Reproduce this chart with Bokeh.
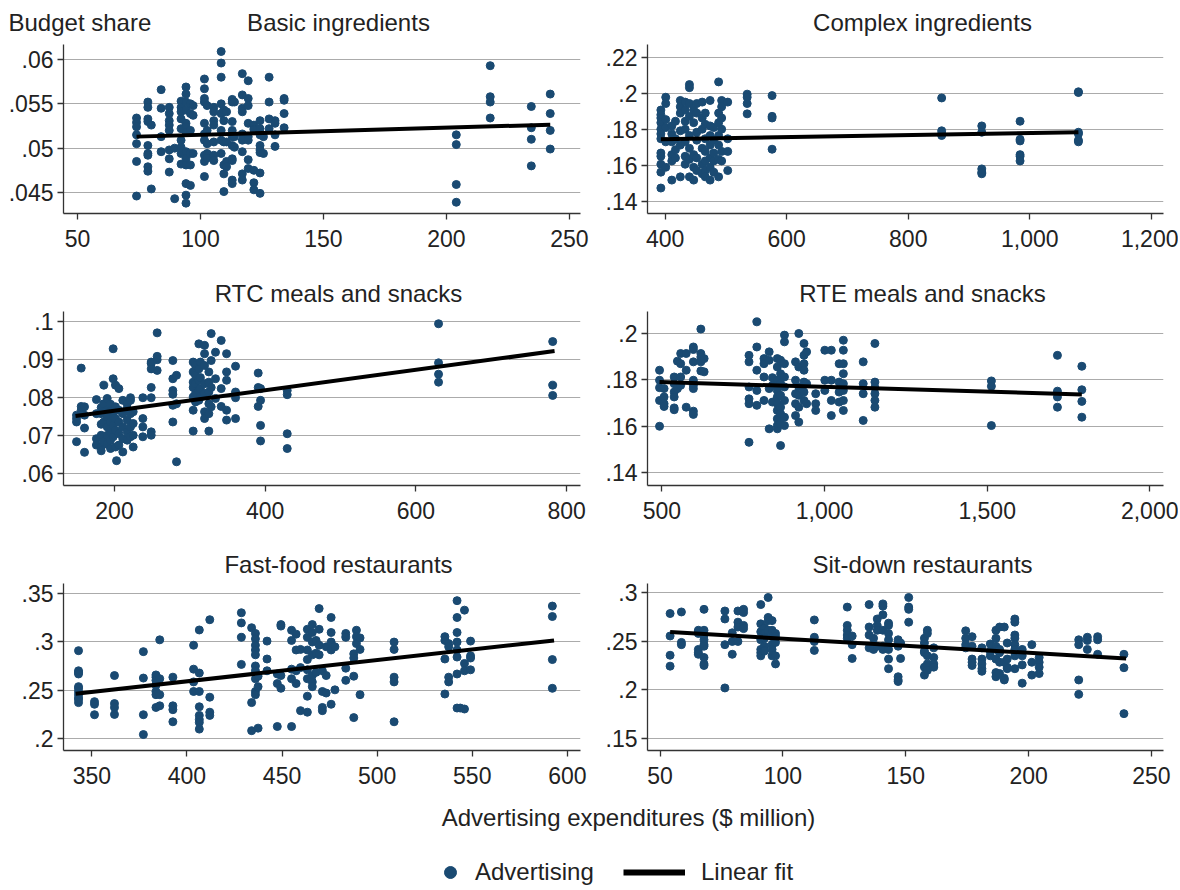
import math
from bokeh.plotting import figure
from bokeh.layouts import column, row
from bokeh.models import Range1d, FixedTicker, NumeralTickFormatter, Label, Legend, LegendItem
from bokeh.embed import file_html
from bokeh.resources import INLINE

FONT = "Liberation Sans"
TXT = "#222222"
DOT = "#1a4a72"
AXIS = "#333333"
GRID = "#ababab"

# ---------------- Basic ingredients ----------------
basic_x = [74, 74, 74, 74, 74, 74, 74,
           78.6, 78.6, 78.6, 78.6, 78.6, 78.6, 78.6, 78.6, 78.6,
           80, 80,
           84, 84, 84, 84,
           87.3, 87.3, 87.3, 87.3, 87.3, 87.3, 87.3, 87.3,
           89.5, 89.5,
           92.1, 92.1, 92.1, 92.1, 92.1, 92.1, 92.1, 92.1, 92.1,
           94.1, 94.1, 94.1, 94.1, 94.1, 94.1, 94.1, 94.1, 94.1, 94.1, 94.1, 94.1, 94.1,
           95.9, 95.9, 95.9, 95.9, 95.9, 95.9,
           97, 97, 97,
           101.6, 101.6, 101.6, 101.6, 101.6, 101.6, 101.6, 101.6, 101.6, 101.6,
           102.7, 102.7, 102.7, 102.7, 102.7,
           105.4, 105.4, 105.4, 105.4, 105.4, 105.4, 105.4,
           108.4, 108.4, 108.4, 108.4, 108.4, 108.4, 108.4, 108.4,
           109.5, 109.5, 109.5, 109.5, 109.5, 109.5,
           110.6, 110.6, 110.6, 110.6,
           112.9, 112.9, 112.9, 112.9, 112.9, 112.9, 112.9, 112.9, 112.9, 112.9,
           113.8, 113.8, 113.8,
           117, 117, 117, 117, 117, 117, 117, 117, 117,
           119.4, 119.4, 119.4, 119.4, 119.4, 119.4, 119.4, 119.4,
           121.7, 121.7, 121.7, 121.7, 121.7,
           124.2, 124.2, 124.2, 124.2, 124.2, 124.2, 124.2, 124.2,
           125.6, 125.6,
           127.9, 127.9, 127.9, 127.9,
           130.3, 130.3, 130.3, 130.3,
           134, 134, 134, 134,
           204, 204, 204, 204,
           217.8, 217.8, 217.8, 217.8,
           234.5, 234.5, 234.5, 234.5,
           242.2, 242.2, 242.2, 242.2]
basic_y = [.0534, .0529, .0524, .0515, .0505, .0485, .0446,
           .0552, .0546, .0533, .0530, .0503, .0494, .0492, .0479, .0474,
           .0526, .0454,
           .0566, .0545, .0513, .0496,
           .0546, .0539, .0531, .0526, .0520, .0498, .0488, .0473,
           .0500, .0443,
           .0553, .0546, .0541, .0533, .0522, .0509, .0501, .0494, .0482,
           .0569, .0561, .0552, .0543, .0528, .0524, .0518, .0496, .0488, .0481, .0460, .0447, .0438,
           .0550, .0539, .0520, .0494, .0481, .0458,
           .0548, .0537, .0494,
           .0578, .0567, .0556, .0552, .0528, .0516, .0509, .0492, .0485, .0468,
           .0548, .0520, .0505, .0494, .0489,
           .0546, .0541, .0531, .0526, .0507, .0492, .0486,
           .0609, .0596, .0580, .0550, .0539, .0520, .0509, .0494,
           .0543, .0531, .0507, .0481, .0471, .0451,
           .0541, .0507, .0485, .0479,
           .0555, .0552, .0530, .0520, .0513, .0503, .0488, .0486, .0464, .0460,
           .0552, .0513, .0501,
           .0584, .0560, .0545, .0541, .0516, .0509, .0496, .0471, .0464,
           .0576, .0556, .0548, .0528, .0513, .0509, .0487, .0477,
           .0526, .0521, .0475, .0461, .0453,
           .0531, .0522, .0515, .0503, .0498, .0495, .0472, .0449,
           .0513, .0494,
           .0580, .0552, .0533, .0522,
           .0531, .0528, .0515, .0502,
           .0556, .0554, .0539, .0523,
           .0515, .0504, .0459, .0439,
           .0593, .0558, .0552, .0534,
           .0547, .0523, .0510, .0480,
           .0561, .0539, .0520, .0499]
basic_fit_x = [74, 242.2]
basic_fit_y = [.0513, .05265]

# ---------------- Complex ingredients ----------------
complex_x = [393, 393, 393, 393, 393, 393, 393, 393, 393, 393, 393, 393,
             401, 401, 401, 401, 401, 401,
             411, 411, 411, 411, 411, 411,
             417, 417, 417, 417,
             425, 425, 425, 425, 425, 425,
             433, 433, 433, 433, 433, 433, 433,
             440, 440, 440, 440, 440, 440, 440, 440,
             447, 447, 447, 447, 447,
             452, 452, 452, 452, 452, 452,
             461, 461, 461, 461, 461, 461,
             466, 466, 466, 466, 466, 466, 466,
             474, 474, 474, 474, 474, 474, 474,
             480, 480, 480, 480, 480,
             488, 488, 488, 488, 488, 488, 488,
             493, 493, 493, 493, 493, 493,
             503, 503, 503, 503,
             535, 535, 535, 535,
             576, 576, 576, 576,
             855, 855, 855, 855,
             921, 921, 921, 921, 921,
             984, 984, 984, 984, 984, 984,
             1080, 1080, 1080, 1080, 1080, 1080]
complex_y = [.1908, .1882, .1864, .1838, .1802, .1776, .1749, .1670, .1652, .1608, .1564, .1476,
             .1979, .1944, .1855, .1811, .1732, .1591,
             .1820, .1776, .1732, .1661, .1626, .1520,
             .1846, .1749, .1688, .1643,
             .1961, .1926, .1891, .1793, .1714, .1538,
             .1952, .1908, .1846, .1802, .1732, .1652, .1608,
             .2049, .2032, .1944, .1873, .1767, .1696, .1635, .1538,
             .1908, .1838, .1661, .1591, .1520,
             .1944, .1891, .1785, .1741, .1643, .1573,
             .1952, .1864, .1802, .1696, .1608, .1555,
             .1891, .1829, .1749, .1679, .1626, .1573, .1538,
             .1961, .1820, .1767, .1714, .1643, .1591, .1520,
             .1811, .1741, .1670, .1626, .1564,
             .2064, .1891, .1838, .1767, .1714, .1635, .1538,
             .1961, .1926, .1864, .1802, .1679, .1626,
             .1952, .1749, .1679, .1573,
             .1996, .1979, .1944, .1887,
             .1988, .1873, .1864, .1691,
             .1975, .1793, .1776, .1767,
             .1820, .1785, .1582, .1564, .1555,
             .1846, .1746, .1737, .1661, .1652, .1626,
             .2009, .2005, .1785, .1776, .1741, .1732]
complex_fit_x = [393, 1080]
complex_fit_y = [.1746, .1785]

# ---------------- RTC meals and snacks ----------------
rtc_x = [149.6, 149.6, 149.6, 149.6,
         155.8, 155.8, 155.8,
         160.2, 160.2, 160.2, 160.2,
         176, 176, 176, 176,
         182.3, 182.3, 182.3, 182.3, 182.3, 182.3,
         185.8, 185.8, 185.8, 185.8,
         190.3, 190.3, 190.3, 190.3, 190.3, 190.3,
         194.7, 194.7, 194.7, 194.7, 194.7, 194.7,
         198.2, 198.2, 198.2, 198.2, 198.2,
         201.3, 201.3, 201.3, 201.3, 201.3,
         202.7,
         205.8, 205.8, 205.8, 205.8, 205.8,
         211, 211, 211, 211, 211,
         216.8, 216.8, 216.8, 216.8, 216.8,
         221.2, 221.2, 221.2, 221.2, 221.2,
         224.8, 224.8, 224.8, 224.8,
         237.6, 237.6, 237.6, 237.6,
         248.7, 248.7, 248.7, 248.7, 248.7, 248.7, 248.7,
         256.6, 256.6, 256.6, 256.6,
         277.4, 277.4, 277.4, 277.4, 277.4, 277.4,
         282.3, 282.3, 282.3,
         304.4, 304.4, 304.4, 304.4, 304.4, 304.4, 304.4,
         307.5, 307.5, 307.5, 307.5, 307.5,
         311.9, 311.9, 311.9, 311.9, 311.9,
         314, 314, 314, 314,
         319.5, 319.5, 319.5, 319.5, 319.5, 319.5, 319.5,
         325.2, 325.2, 325.2, 325.2, 325.2, 325.2,
         328.3, 328.3, 328.3, 328.3,
         334, 334, 334,
         341.6, 341.6, 341.6,
         348.7, 348.7, 348.7, 348.7, 348.7,
         360.6, 360.6, 360.6, 360.6,
         390.7, 390.7, 390.7,
         393.8, 393.8, 393.8, 393.8,
         429.2, 429.2, 429.2, 429.2,
         630, 630, 630, 630,
         781.5, 781.5, 781.5]
rtc_y = [.0753, .0744, .0735, .0683,
         .0877, .0776, .0766,
         .0775, .0753, .0719, .0655,
         .0794, .0757, .0691, .0674,
         .0773, .0757, .0729, .0700, .0669, .0659,
         .0832, .0783, .0735, .0683,
         .0797, .0766, .0748, .0722, .0700, .0676,
         .0782, .0762, .0735, .0709, .0687, .0665,
         .0928, .0849, .0750, .0726, .0696,
         .0832, .0775, .0744, .0713, .0669,
         .0633,
         .0823, .0766, .0735, .0704, .0674,
         .0792, .0757, .0722, .0691, .0656,
         .0783, .0770, .0740, .0709, .0687,
         .0799, .0792, .0757, .0722, .0696,
         .0762, .0731, .0700, .0669,
         .0799, .0744, .0722, .0696,
         .0893, .0889, .0875, .0826, .0799, .0709, .0700,
         .0970, .0908, .0899, .0871,
         .0897, .0849, .0818, .0808, .0779, .0735,
         .0858, .0783, .0630,
         .0893, .0867, .0840, .0826, .0801, .0766, .0711,
         .0884, .0858, .0836, .0810, .0788,
         .0941, .0875, .0845, .0818, .0792,
         .0893, .0852, .0823, .0801,
         .0937, .0915, .0884, .0836, .0810, .0762, .0744,
         .0867, .0840, .0814, .0783, .0757, .0711,
         .0968, .0897, .0826, .0775,
         .0919, .0849, .0797,
         .0950, .0823, .0776,
         .0915, .0867, .0845, .0766, .0740,
         .0882, .0814, .0799, .0744,
         .0864, .0826, .0776,
         .0823, .0792, .0726, .0685,
         .0818, .0807, .0704, .0665,
         .0994, .0891, .0861, .0840,
         .0947, .0832, .0805]
rtc_fit_x = [148.2, 784]
rtc_fit_y = [.0751, .0922]

# ---------------- RTE meals and snacks ----------------
rte_x = [493, 493, 493, 493, 493,
         507, 507, 507, 507,
         538, 538, 538, 538, 538, 538,
         548, 548,
         558, 558, 558, 558,
         575, 575, 575,
         597, 597, 597, 597, 597, 597, 597, 597,
         620, 620, 620, 620, 620,
         630, 630,
         768, 768, 768, 768, 768, 768,
         792, 792, 792, 792, 792,
         814, 814, 814, 814,
         830, 830, 830, 830,
         840, 840, 840,
         855, 855, 855, 855, 855, 855, 855, 855, 855, 855,
         865, 865, 865, 865, 865, 865, 865, 865,
         877, 877, 877, 877, 877, 877, 877, 877,
         911, 911, 911, 911, 911,
         921, 921, 921, 921, 921, 921,
         937, 937, 937, 937, 937, 937, 937,
         945, 945, 945,
         973, 973, 973,
         1001, 1001, 1001,
         1021, 1021, 1021, 1021,
         1045, 1045, 1045, 1045,
         1058, 1058, 1058, 1058, 1058, 1058, 1058, 1058,
         1119, 1119, 1119, 1119,
         1155, 1155, 1155, 1155, 1155, 1155,
         1513, 1513, 1513,
         1716, 1716, 1716, 1716,
         1791, 1791, 1791, 1791]
rte_y = [.1842, .1799, .1767, .1712, .1601,
         .1763, .1727, .1698, .1686,
         .1813, .1784, .1748, .1727, .1680, .1672,
         .1881, .1763,
         .1914, .1870, .1813, .1777,
         .1914, .1842, .1683,
         .1942, .1931, .1878, .1799, .1777, .1763, .1666, .1652,
         .2019, .1914, .1899, .1878, .1839,
         .1892, .1835,
         .1906, .1878, .1770, .1719, .1698, .1532,
         .2050, .1942, .1842, .1755, .1691,
         .1892, .1870, .1813, .1712,
         .1921, .1885, .1763, .1590,
         .1810, .1777, .1705,
         .1892, .1856, .1799, .1755, .1727, .1698, .1669, .1633, .1604, .1590,
         .1885, .1827, .1784, .1734, .1683, .1655, .1611, .1518,
         .1993, .1964, .1870, .1813, .1770, .1712, .1640, .1604,
         .1878, .1799, .1741, .1698, .1647,
         .2000, .1856, .1770, .1734, .1683, .1619,
         .1957, .1906, .1870, .1842, .1791, .1748, .1712,
         .1921, .1784, .1698,
         .1741, .1698, .1669,
         .1928, .1799, .1755,
         .1928, .1799, .1712, .1647,
         .1870, .1791, .1748, .1705,
         .1971, .1928, .1870, .1827, .1784, .1755, .1712, .1669,
         .1878, .1784, .1741, .1626,
         .1957, .1791, .1767, .1741, .1712, .1683,
         .1796, .1773, .1604,
         .1906, .1752, .1727, .1683,
         .1859, .1758, .1708, .1640]
rte_fit_x = [493, 1791]
rte_fit_y = [.1791, .1738]

# ---------------- Fast-food restaurants ----------------
fast_x = [343, 343, 343, 343, 343, 343, 343, 343, 343, 343, 343,
          351.4, 351.4, 351.4,
          361.9, 361.9, 361.9, 361.9,
          377.1, 377.1, 377.1, 377.1,
          383.7, 383.7, 383.7, 383.7, 383.7, 383.7, 383.7,
          385.7, 385.7, 385.7, 385.7,
          392.6, 392.6, 392.6, 392.6,
          403.5, 403.5, 403.5, 403.5,
          406.5, 406.5, 406.5, 406.5, 406.5, 406.5, 406.5, 406.5,
          412, 412, 412, 412,
          428.6, 428.6, 428.6, 428.6,
          434, 434, 434,
          436, 436, 436, 436, 436, 436, 436, 436, 436, 436,
          437.4, 437.4, 437.4,
          442.1, 442.1, 442.1,
          447.5, 447.5, 447.5,
          449.4, 449.4, 449.4, 449.4,
          455, 455, 455, 455, 455,
          457.4, 457.4, 457.4, 457.4,
          459.7, 459.7, 459.7,
          463.3, 463.3, 463.3, 463.3, 463.3, 463.3, 463.3, 463.3,
          465.9, 465.9, 465.9, 465.9, 465.9, 465.9, 465.9,
          467.9, 467.9, 467.9,
          469.5, 469.5, 469.5, 469.5,
          471.2, 471.2, 471.2, 471.2,
          473.2, 473.2, 473.2,
          475.8, 475.8, 475.8, 475.8, 475.8,
          477.8, 477.8,
          483.5, 483.5, 483.5, 483.5,
          487.7, 487.7, 487.7, 487.7,
          489.1, 489.1, 489.1,
          491, 491, 491,
          508.9, 508.9, 508.9, 508.9, 508.9,
          535.6, 535.6, 535.6, 535.6,
          537.6, 537.6, 537.6, 537.6,
          542, 542, 542, 542, 542, 542, 542, 542,
          543.7,
          545.9, 545.9, 545.9, 545.9,
          549.1, 549.1, 549.1, 549.1,
          592.1, 592.1, 592.1, 592.1]
fast_y = [.2910, .2702, .2686, .2669, .2538, .2521, .2488, .2455, .2422, .2406, .2373,
          .2383, .2356, .2248,
          .2653, .2363, .2323, .2251,
          .2900, .2627, .2248, .2043,
          .2659, .2636, .2603, .2554, .2488, .2455, .2323,
          .3022, .2620, .2455, .2340,
          .2636, .2340, .2300, .2175,
          .2966, .2719, .2587, .2488,
          .3124, .2679, .2488, .2330, .2241, .2198, .2168, .2099,
          .3230, .2429, .2274, .2241,
          .3302, .3197, .3048, .2768,
          .3147, .2373, .2083,
          .3088, .3032, .2966, .2917, .2867, .2752, .2702, .2620, .2488, .2455,
          .2646, .2538, .2109,
          .3009, .2824, .2702,
          .2669, .2570, .2126,
          .3180, .3164, .2653, .2521,
          .3121, .3016, .2719, .2620, .2126,
          .3081, .2917, .2702, .2570,
          .2923, .2735, .2290,
          .3131, .3048, .2917, .2818, .2712, .2620, .2439, .2274,
          .3180, .3098, .2999, .2867, .2653, .2587, .2538,
          .3016, .2884, .2686,
          .3345, .3131, .2966, .2867,
          .2702, .2488, .2323, .2290,
          .2950, .2653, .2472,
          .3253, .3098, .2999, .2917, .2356,
          .2950, .2505,
          .3088, .3048, .2729, .2603,
          .2877, .2834, .2646, .2218,
          .3121, .3055, .2983,
          .3042, .2923, .2455,
          .2999, .2923, .2636, .2587, .2175,
          .3055, .3016, .2824, .2462,
          .2983, .2950, .2636, .2587,
          .3427, .3253, .3098, .2999, .2917, .2844, .2669, .2317,
          .2317,
          .3329, .2778, .2702, .2307,
          .3009, .2857, .2834, .2712,
          .3371, .3263, .2818, .2521]
fast_fit_x = [341.5, 593]
fast_fit_y = [.2465, .3016]

# ---------------- Sit-down restaurants ----------------
sit_x = [54.1, 54.1, 54.1, 54.1,
         58.7, 58.7, 58.7,
         65.6, 65.6, 65.6, 65.6, 65.6, 65.6,
         67.9, 67.9, 67.9, 67.9, 67.9, 67.9, 67.9, 67.9, 67.9,
         76.4, 76.4, 76.4, 76.4,
         79.4, 79.4, 79.4,
         81.7, 81.7, 81.7, 81.7,
         84, 84, 84, 84,
         91, 91, 91, 91, 91, 91, 91,
         92.5, 92.5, 92.5, 92.5, 92.5,
         94, 94, 94, 94,
         95.6, 95.6, 95.6, 95.6, 95.6, 95.6,
         97, 97, 97, 97, 97,
         112.8, 112.8, 112.8, 112.8,
         126.2, 126.2, 126.2, 126.2, 126.2,
         128.2, 128.2, 128.2,
         135.1, 135.1, 135.1, 135.1,
         136.9, 136.9, 136.9,
         138.4, 138.4, 138.4, 138.4,
         140.7, 140.7, 140.7, 140.7, 140.7, 140.7,
         143, 143, 143, 143, 143, 143, 143,
         146.9, 146.9, 146.9, 146.9, 146.9, 146.9,
         147.9, 147.9,
         151.2, 151.2, 151.2, 151.2,
         157.6, 157.6, 157.6, 157.6, 157.6, 157.6,
         158.8, 158.8, 158.8, 158.8, 158.8,
         161.4, 161.4, 161.4, 161.4,
         174.4, 174.4, 174.4, 174.4,
         177, 177, 177, 177, 177,
         181, 181, 181, 181, 181,
         184.4, 184.4, 184.4,
         186.7, 186.7, 186.7, 186.7, 186.7, 186.7, 186.7,
         188.2, 188.2, 188.2, 188.2, 188.2,
         190.1, 190.1, 190.1, 190.1,
         191.3, 191.3, 191.3, 191.3,
         194.4, 194.4, 194.4, 194.4, 194.4, 194.4, 194.4, 194.4,
         197.4, 197.4, 197.4, 197.4,
         201.3, 201.3, 201.3,
         204.3, 204.3, 204.3, 204.3,
         220.4, 220.4, 220.4, 220.4,
         223.9, 223.9, 223.9,
         228.1, 228.1, 228.1,
         238.8, 238.8, 238.8]
sit_y = [.2786, .2555, .2357, .2245,
         .2802, .2489, .2466,
         .2614, .2598, .2581, .2417, .2384, .2367,
         .2829, .2614, .2565, .2516, .2466, .2450, .2334, .2268, .2252,
         .2812, .2730, .2466, .2021,
         .2588, .2499, .2367,
         .2812, .2697, .2647, .2499,
         .2829, .2796, .2664, .2631,
         .2878, .2680, .2598, .2516, .2417, .2384, .2351,
         .2641, .2581, .2532, .2450, .2400,
         .2951, .2746, .2713, .2614,
         .2713, .2614, .2548, .2466, .2417, .2351,
         .2581, .2548, .2489, .2351, .2268,
         .2720, .2542, .2499, .2407,
         .2852, .2664, .2614, .2565, .2532,
         .2555, .2466, .2324,
         .2878, .2647, .2565, .2433,
         .2532, .2466, .2417,
         .2730, .2664, .2614, .2450,
         .2885, .2862, .2773, .2614, .2450, .2417,
         .2687, .2664, .2581, .2516, .2417, .2318, .2219,
         .2516, .2483, .2450, .2136, .2103, .2087,
         .2483, .2324,
         .2951, .2852, .2829, .2697,
         .2532, .2483, .2400, .2384, .2235, .2153,
         .2614, .2581, .2351, .2268, .2202,
         .2433, .2334, .2268, .2235,
         .2608, .2532, .2466, .2433,
         .2548, .2450, .2318, .2285, .2252,
         .2433, .2318, .2268, .2219, .2192,
         .2473, .2400, .2351,
         .2614, .2532, .2450, .2417, .2318, .2179, .2136,
         .2647, .2417, .2384, .2285, .2169,
         .2647, .2285, .2120, .2103,
         .2483, .2318, .2235, .2219,
         .2730, .2697, .2565, .2532, .2466, .2417, .2351, .2219,
         .2417, .2351, .2258, .2070,
         .2466, .2285, .2153,
         .2334, .2285, .2235, .2169,
         .2516, .2466, .2103, .1955,
         .2542, .2509, .2417,
         .2548, .2516, .2367,
         .2367, .2229, .1757]
sit_fit_x = [54.1, 239.7]
sit_fit_y = [.2595, .2324]

# ---------------- ticks ----------------
basic_xticks = [50, 100, 150, 200, 250]
basic_yticks = [0.045, 0.05, 0.055, 0.06]
basic_ylabels = [".045", ".05", ".055", ".06"]
complex_xticks = [400, 600, 800, 1000, 1200]
complex_yticks = [0.14, 0.16, 0.18, 0.2, 0.22]
complex_ylabels = [".14", ".16", ".18", ".2", ".22"]
rtc_xticks = [200, 400, 600, 800]
rtc_yticks = [0.06, 0.07, 0.08, 0.09, 0.1]
rtc_ylabels = [".06", ".07", ".08", ".09", ".1"]
rte_xticks = [500, 1000, 1500, 2000]
rte_yticks = [0.14, 0.16, 0.18, 0.2]
rte_ylabels = [".14", ".16", ".18", ".2"]
fast_xticks = [350, 400, 450, 500, 550, 600]
fast_yticks = [0.2, 0.25, 0.3, 0.35]
fast_ylabels = [".2", ".25", ".3", ".35"]
sit_xticks = [50, 100, 150, 200, 250]
sit_yticks = [0.15, 0.2, 0.25, 0.3]
sit_ylabels = [".15", ".2", ".25", ".3"]

titles = ["Basic ingredients", "Complex ingredients", "RTC meals and snacks",
          "RTE meals and snacks", "Fast-food restaurants", "Sit-down restaurants"]

FULL_W = 1178


def text_label(x, y, text, align="center"):
    return Label(x=x, y=y, x_units="screen", y_units="screen", text=text,
                 text_align=align, text_baseline="middle", text_font=FONT,
                 text_font_size="24px", text_color=TXT)


def strip(height, left_title, right_title, y_mid, extra=None):
    s = figure(width=FULL_W, height=height, x_range=Range1d(0, FULL_W), y_range=Range1d(0, height),
               x_axis_type=None, y_axis_type=None, min_border=0, title_location=None,
               output_backend="svg", toolbar_location=None)
    s.outline_line_color = None
    s.xgrid.visible = False
    s.ygrid.visible = False
    s.add_layout(text_label(338, y_mid, left_title))
    s.add_layout(text_label(922, y_mid, right_title))
    if extra is not None:
        s.add_layout(text_label(8, y_mid, extra, align="left"))
    return s


def panel(xs, ys, fx, fy, xr, yr, xticks, yticks, ylabels, fw, fh, bl, br, bt, bb):
    p = figure(frame_width=fw, frame_height=fh,
               x_range=Range1d(*xr), y_range=Range1d(*yr),
               min_border_left=bl, min_border_right=br,
               min_border_top=bt, min_border_bottom=bb, title_location=None,
               output_backend="svg", toolbar_location=None)
    p.outline_line_color = None
    p.background_fill_color = "white"
    p.border_fill_color = "white"
    p.xgrid.visible = False
    p.ygrid.grid_line_color = GRID
    p.ygrid.grid_line_width = 1.1
    p.xaxis.ticker = FixedTicker(ticks=xticks)
    p.xaxis.formatter = NumeralTickFormatter(format="0,0")
    p.yaxis.ticker = FixedTicker(ticks=yticks)
    p.yaxis.major_label_overrides = {t: l for t, l in zip(yticks, ylabels)}
    for ax in (p.xaxis[0], p.yaxis[0]):
        ax.axis_line_color = AXIS
        ax.axis_line_width = 1.3
        ax.major_tick_line_color = AXIS
        ax.major_tick_line_width = 1.3
        ax.major_tick_out = 6
        ax.major_tick_in = 0
        ax.minor_tick_line_color = None
        ax.major_label_text_font = FONT
        ax.major_label_text_font_size = "23px"
        ax.major_label_text_color = TXT
    p.xaxis.major_label_standoff = 10
    p.yaxis.major_label_standoff = 4
    p.scatter(xs, ys, size=8, color=DOT, line_color=DOT)
    p.line(fx, fy, line_width=4, color="black")
    return p


# rows (heights): strip1 44 | row1 219 | strip2 44 | row2 228 | strip3 43 | row3 214 | foot 98
strip1 = strip(44, titles[0], titles[1], 22, extra="Budget share")
p1 = panel(basic_x, basic_y, basic_fit_x, basic_fit_y, (44.3, 254.5), (0.04263, 0.06169),
           basic_xticks, basic_yticks, basic_ylabels, 517, 169, 63, 20, 0, 50)
p2 = panel(complex_x, complex_y, complex_fit_x, complex_fit_y, (371, 1220), (0.1335, 0.2271),
           complex_xticks, complex_yticks, complex_ylabels, 516, 169, 47, 15, 0, 50)
strip2 = strip(44, titles[2], titles[3], 14)
p3 = panel(rtc_x, rtc_y, rtc_fit_x, rtc_fit_y, (132.3, 818.4), (0.05675, 0.10263),
           rtc_xticks, rtc_yticks, rtc_ylabels, 517, 174, 63, 20, 4, 50)
p4 = panel(rte_x, rte_y, rte_fit_x, rte_fit_y, (456, 2042), (0.13462, 0.20946),
           rte_xticks, rte_yticks, rte_ylabels, 516, 174, 47, 15, 4, 50)
strip3 = strip(43, titles[4], titles[5], 14)
p5 = panel(fast_x, fast_y, fast_fit_x, fast_fit_y, (335.1, 606.9), (0.1878, 0.36044),
           fast_xticks, fast_yticks, fast_ylabels, 517, 167, 63, 20, 5, 42)
p6 = panel(sit_x, sit_y, sit_fit_x, sit_fit_y, (44.9, 254.9), (0.1378, 0.30946),
           sit_xticks, sit_yticks, sit_ylabels, 516, 167, 47, 15, 5, 42)

FOOT_H = 98
foot = figure(width=FULL_W, height=FOOT_H, x_range=Range1d(0, FULL_W), y_range=Range1d(0, FOOT_H),
              x_axis_type=None, y_axis_type=None, min_border=0, title_location=None,
              output_backend="svg", toolbar_location=None)
foot.outline_line_color = None
foot.xgrid.visible = False
foot.ygrid.visible = False
foot.add_layout(text_label(628, 73, "Advertising expenditures ($ million)"))
r_dot = foot.scatter(x=[math.nan], y=[math.nan], size=12, color=DOT)
r_fit = foot.line(x=[math.nan, math.nan], y=[math.nan, math.nan], line_width=6, color="black")
leg1 = Legend(items=[LegendItem(label="Advertising", renderers=[r_dot])], location=(435, 3),
              glyph_width=30, glyph_height=30, label_standoff=10, padding=0, margin=0,
              border_line_color=None, background_fill_alpha=0,
              label_text_font=FONT, label_text_font_size="24px", label_text_color=TXT)
leg2 = Legend(items=[LegendItem(label="Linear fit", renderers=[r_fit])], location=(623, 3),
              glyph_width=62, glyph_height=30, label_standoff=16, padding=0, margin=0,
              border_line_color=None, background_fill_alpha=0,
              label_text_font=FONT, label_text_font_size="24px", label_text_color=TXT)
foot.add_layout(leg1, "center")
foot.add_layout(leg2, "center")

layout = column(strip1, row(p1, p2), strip2, row(p3, p4), strip3, row(p5, p6), foot)
open("out.html", "w").write(file_html(layout, INLINE))
